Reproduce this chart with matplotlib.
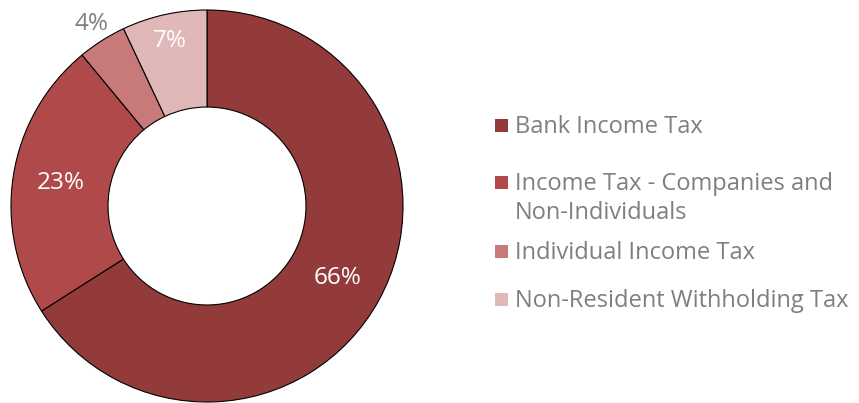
import matplotlib.pyplot as plt
from matplotlib.patches import Rectangle
import numpy as np

categories = ["Bank Income Tax", "Income Tax - Companies and\nNon-Individuals",
              "Individual Income Tax", "Non-Resident Withholding Tax"]
shares = [66, 23, 4, 7]
colors = ["#933b3b", "#b04a4a", "#c87a7a", "#e0b8b8"]
label_colors = ["white", "white", "#7f7f7f", "white"]
label_radius = [0.76, 0.755, 1.1, 0.86]

plt.rcParams['font.family'] = ['Open Sans', 'DejaVu Sans']

fig = plt.figure(figsize=(8.59, 4.03), dpi=100)
ax = fig.add_axes([11 / 859, 1 / 403, 392 / 859, 392 / 403])

wedges, _ = ax.pie(shares, colors=colors, startangle=90, counterclock=False,
                   radius=1.0, wedgeprops=dict(width=0.495, edgecolor="black", linewidth=0.8))
ax.set_xlim(-1, 1)
ax.set_ylim(-1, 1)
ax.axis("off")

# percent labels at each wedge's mid angle
for w, v, c, r in zip(wedges, shares, label_colors, label_radius):
    ang = np.deg2rad((w.theta1 + w.theta2) / 2)
    ax.text(r * np.cos(ang), r * np.sin(ang), f"{v}%", color=c, fontsize=17.5,
            ha="center", va="center", clip_on=False)

# legend drawn by hand for the uneven row spacing
rows_y = [125, 182, 251, 299]
for name, col, y in zip(categories, colors, rows_y):
    fig.patches.append(Rectangle((495 / 859, 1 - (y + 7) / 403), 13 / 859, 13 / 403,
                                 transform=fig.transFigure, facecolor=col, edgecolor="none"))
    fig.text(515 / 859, 1 - (y - 10) / 403, name, color="#7f7f7f", fontsize=17,
             ha="left", va="top", linespacing=1.3)

fig.savefig("out.png", dpi=100)
